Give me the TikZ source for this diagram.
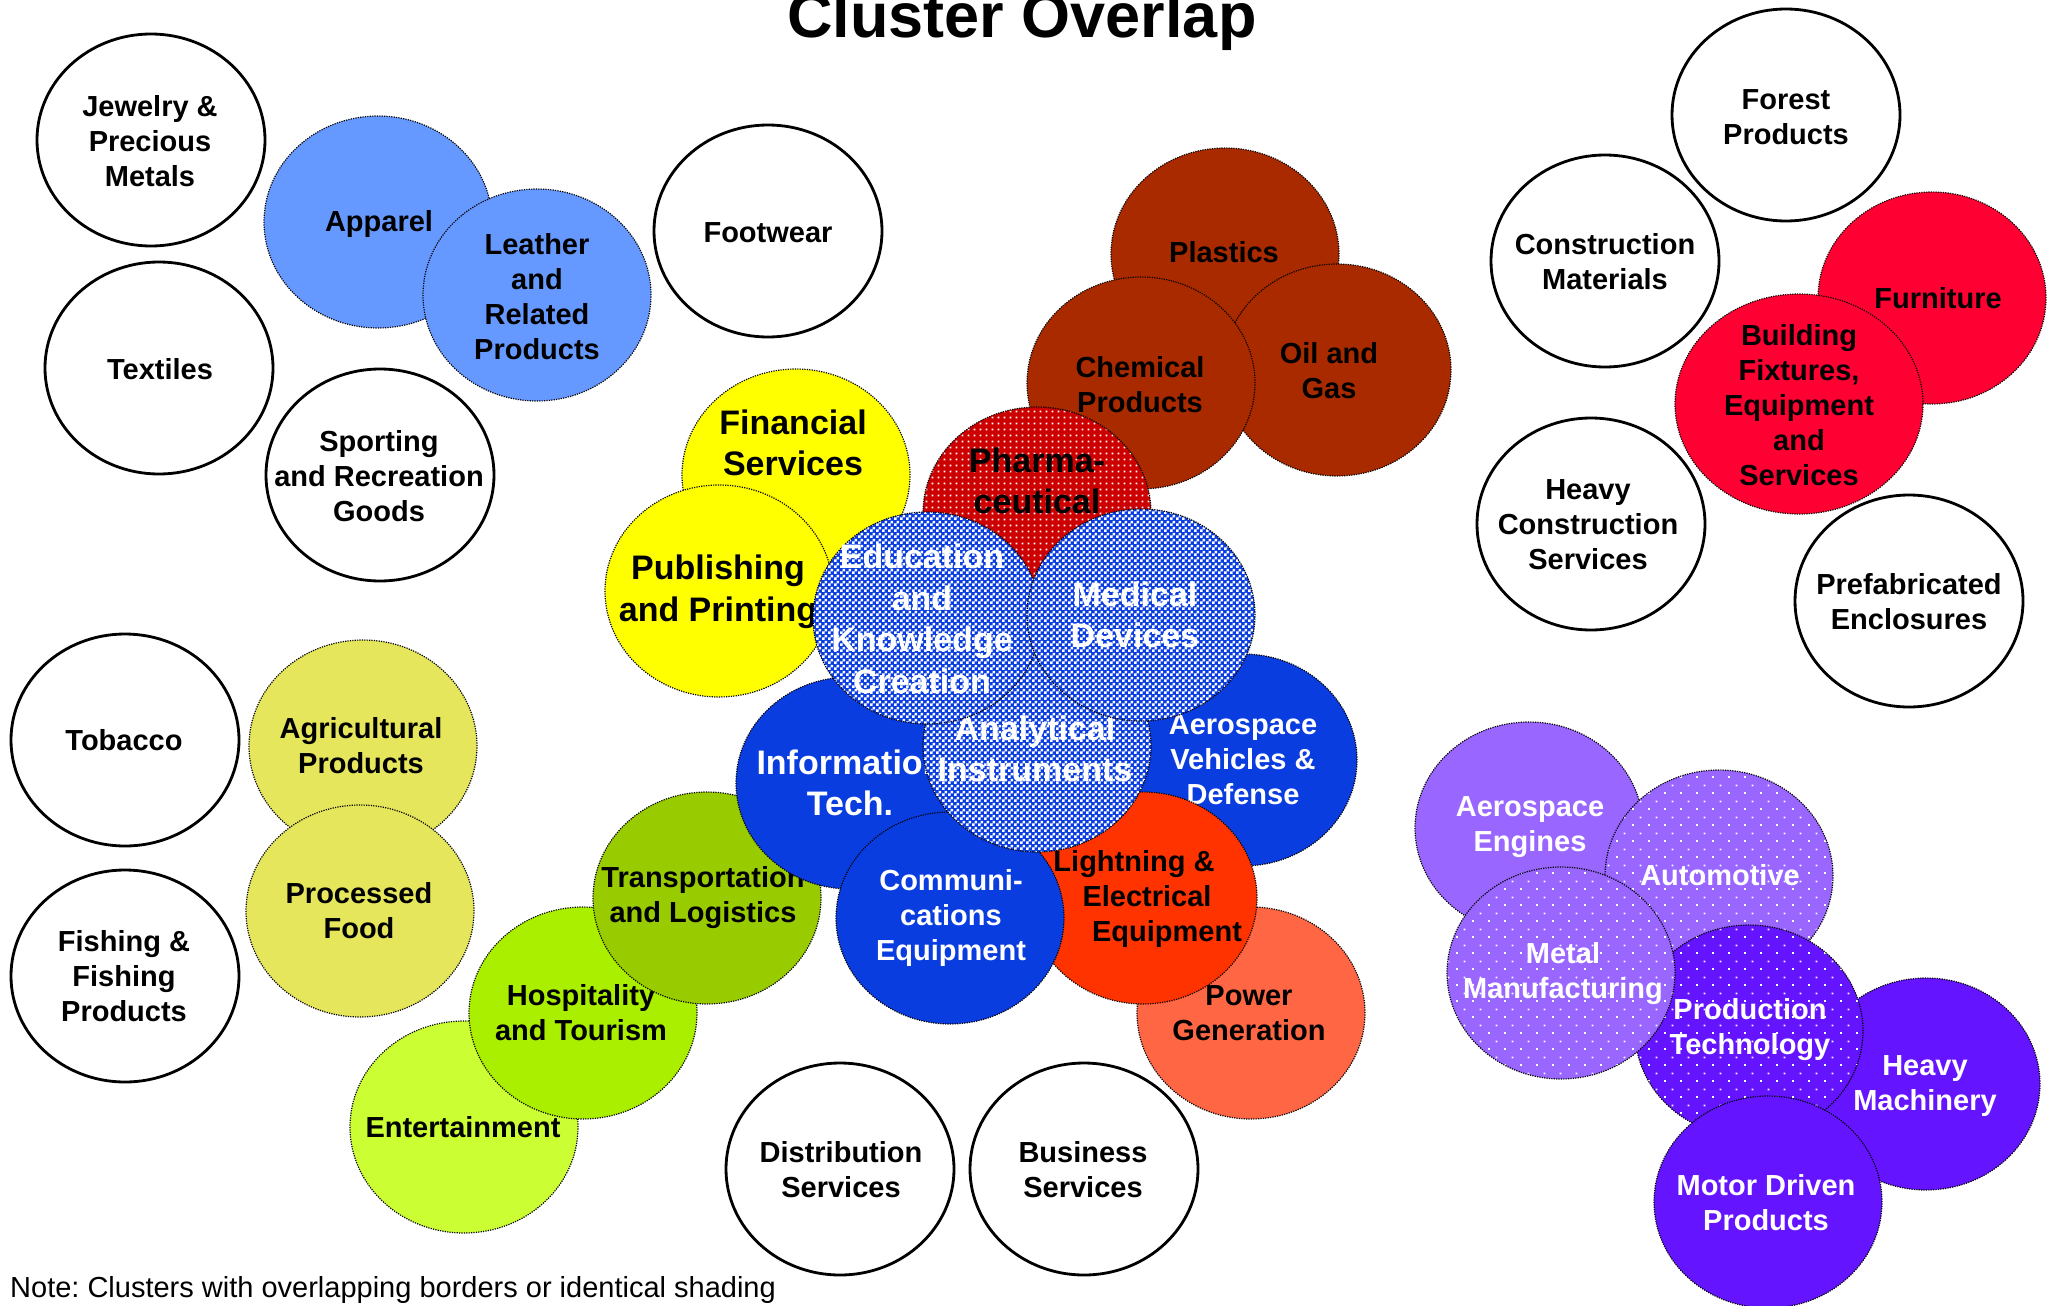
\documentclass[tikz,border=0pt]{standalone}
\usepackage{fontspec}
\setmainfont{Liberation Sans}
\frenchspacing
\usetikzlibrary{patterns}
\pgfdeclarepatternformonly{chkthree}{\pgfqpoint{0pt}{0pt}}{\pgfqpoint{6pt}{6pt}}{\pgfqpoint{6pt}{6pt}}{%
  \pgfpathrectangle{\pgfqpoint{0pt}{0pt}}{\pgfqpoint{3pt}{3pt}}%
  \pgfpathrectangle{\pgfqpoint{3pt}{3pt}}{\pgfqpoint{3pt}{3pt}}%
  \pgfusepath{fill}}
\pgfdeclarepatternformonly{finedots}{\pgfqpoint{0pt}{0pt}}{\pgfqpoint{5.5pt}{5.5pt}}{\pgfqpoint{5.5pt}{5.5pt}}{%
  \pgfpathrectangle{\pgfqpoint{1.75pt}{1.75pt}}{\pgfqpoint{2pt}{2pt}}%
  \pgfusepath{fill}}
\pgfdeclarepatternformonly{sparsedots}{\pgfqpoint{0pt}{0pt}}{\pgfqpoint{16pt}{16pt}}{\pgfqpoint{16pt}{16pt}}{%
  \pgfpathrectangle{\pgfqpoint{0pt}{0pt}}{\pgfqpoint{2pt}{2pt}}%
  \pgfpathrectangle{\pgfqpoint{8pt}{8pt}}{\pgfqpoint{2pt}{2pt}}%
  \pgfusepath{fill}}
\definecolor{cblue}{HTML}{6699FF}
\definecolor{cyellow}{HTML}{FFFF00}
\definecolor{cbrown}{HTML}{AA2A00}
\definecolor{cpharma}{HTML}{CC0000}
\definecolor{cdeep}{HTML}{0A3DE0}
\definecolor{clight}{HTML}{FF3300}
\definecolor{cpower}{HTML}{FF6644}
\definecolor{cagri}{HTML}{E6E65C}
\definecolor{ctrans}{HTML}{99CC00}
\definecolor{chosp}{HTML}{AAEE00}
\definecolor{cent}{HTML}{CCFF33}
\definecolor{cfurn}{HTML}{FF0033}
\definecolor{clpur}{HTML}{9966FF}
\definecolor{cdpur}{HTML}{6514FF}
\tikzset{
  wc/.style={draw=black, line width=2.8pt, fill=white},
  cc/.style={draw=black, line width=1.2pt, dash pattern=on 1.2pt off 1.2pt, fill=#1},
  pc/.style n args={2}{draw=black, line width=1.2pt, dash pattern=on 1.2pt off 1.2pt,
     preaction={fill=#1}, pattern=#2, pattern color=white},
  lbl/.style={align=center, inner sep=0pt, font=\bfseries\fontsize{29}{35}\selectfont},
  lblL/.style={align=center, inner sep=0pt, font=\bfseries\fontsize{34}{41.5}\selectfont},
  wt/.style={text=white}
}
\newcommand\clu[6]{%
  \draw[#1] #3 ellipse [x radius=114pt, y radius=106pt];
  \node[#4] (#2) at #5 {#6};}
\begin{document}
\begin{tikzpicture}[x=1pt, y=-1pt]
\useasboundingbox (0,0) rectangle (2051,1306);
% title and note
\node[font=\bfseries\fontsize{63}{70}\selectfont, anchor=base, inner sep=0pt] (title) at (1022,38) {Cluster Overlap};
\node[font=\fontsize{29}{35}\selectfont, anchor=base west, inner sep=0pt] (note) at (10,1297) {Note: Clusters with overlapping borders or identical shading};
% white clusters
\clu{wc}{jewelry}{(151,140)}{lbl}{(150,141)}{Jewelry \&\\Precious\\Metals}
\clu{wc}{textiles}{(159,368)}{lbl}{(160,369)}{Textiles}
\clu{wc}{sporting}{(380,475)}{lbl}{(379,476)}{Sporting\\and Recreation\\Goods}
\clu{wc}{footwear}{(768,231)}{lbl}{(768,233)}{Footwear}
\clu{wc}{forest}{(1786,115)}{lbl}{(1786,117)}{Forest\\Products}
\clu{wc}{constr}{(1605,261)}{lbl}{(1605,262)}{Construction\\Materials}
\clu{wc}{heavyconstr}{(1591,524)}{lbl}{(1588,525)}{Heavy\\Construction\\Services}
\clu{wc}{prefab}{(1909,601)}{lbl}{(1909,602)}{Prefabricated\\Enclosures}
\clu{wc}{tobacco}{(125,740)}{lbl}{(124,740)}{Tobacco}
\clu{wc}{fishing}{(125,976)}{lbl}{(124,976)}{Fishing \&\\Fishing\\Products}
\clu{wc}{distribution}{(840,1169)}{lbl}{(841,1170)}{Distribution\\Services}
\clu{wc}{business}{(1084,1169)}{lbl}{(1083,1170)}{Business\\Services}
% apparel group
\clu{cc=cblue}{apparel}{(378,222)}{lbl}{(379,224)}{Apparel}
\clu{cc=cblue}{leather}{(537,295)}{lbl}{(537,297)}{Leather\\and\\Related\\Products}
% food
\clu{cc=cagri}{agri}{(363,746)}{lbl}{(361,746)}{Agricultural\\Products}
\clu{cc=cagri}{processed}{(360,911)}{lbl}{(359,911)}{Processed\\Food}
% hospitality chain
\clu{cc=cent}{entertainment}{(464,1127)}{lbl}{(463,1127)}{Entertainment}
\clu{cc=chosp}{hospitality}{(583,1013)}{lbl}{(581,1013)}{Hospitality\\and Tourism}
\clu{cc=ctrans}{transport}{(707,898)}{lbl}{(703,898)}{Transportation\\and Logistics}
% finance and publishing
\draw[cc=cyellow] (796,475) ellipse [x radius=114pt, y radius=106pt];
\node[lblL] (financial) at (793,443) {Financial\\Services};
\clu{cc=cyellow}{publishing}{(719,591)}{lblL}{(718,592)}{Publishing\\and Printing}
% chemicals
\clu{cc=cbrown}{plastics}{(1225,254)}{lbl}{(1224,252)}{Plastics}
\clu{cc=cbrown}{oilgas}{(1337,370)}{lbl}{(1329,371)}{Oil and\\Gas}
\clu{cc=cbrown}{chemical}{(1141,383)}{lbl}{(1140,385)}{Chemical\\Products}
\draw[pc={cpharma}{finedots}] (1037,513) ellipse [x radius=114pt, y radius=106pt];
\node[lblL] (pharma) at (1037,481) {Pharma-\\ceutical};
% central technology cluster
\clu{cc=cpower}{power}{(1251,1013)}{lbl}{(1249,1013)}{Power\\Generation}
\clu{cc=cdeep}{aerovehicles}{(1243,760)}{lbl,wt}{(1243,760)}{Aerospace\\Vehicles \&\\Defense}
\clu{cc=clight}{lightning}{(1143,898)}{lbl}{(1147,899)}{Lightning \&\hspace*{26pt}\\Electrical\\\hspace*{40pt}Equipment}
\clu{cc=cdeep}{infotech}{(850,783)}{lblL,wt}{(850,783)}{Information\\Tech.}
\clu{cc=cdeep}{comm}{(950,918)}{lbl,wt}{(951,918)}{Communi-\\cations\\Equipment}
\clu{pc={cdeep}{chkthree}}{analytical}{(1037,746)}{lblL,wt}{(1035,749)}{Analytical\\Instruments}
\clu{pc={cdeep}{chkthree}}{education}{(927,618)}{lblL,wt}{(922,619)}{Education\\and\\Knowledge\\Creation}
\clu{pc={cdeep}{chkthree}}{medical}{(1141,615)}{lblL,wt}{(1135,615)}{Medical\\Devices}
% building
\clu{cc=cfurn}{furniture}{(1932,298)}{lbl}{(1938,298)}{Furniture}
\draw[cc=cfurn] (1799,404) ellipse [x radius=124pt, y radius=110pt];
\node[lbl] (building) at (1799,405) {Building\\Fixtures,\\Equipment\\and\\Services};
% manufacturing
\clu{cc=clpur}{aeroengines}{(1529,828)}{lbl,wt}{(1530,827)}{Aerospace\\Engines}
\clu{pc={clpur}{sparsedots}}{automotive}{(1719,876)}{lbl,wt}{(1720,875)}{Automotive}
\clu{cc=cdpur}{heavymach}{(1926,1084)}{lbl,wt}{(1925,1086)}{Heavy\\Machinery}
\clu{pc={cdpur}{sparsedots}}{production}{(1749,1031)}{lbl,wt}{(1750,1030)}{Production\\Technology}
\clu{pc={clpur}{sparsedots}}{metal}{(1561,973)}{lbl,wt}{(1563,974)}{Metal\\Manufacturing}
\clu{cc=cdpur}{motor}{(1768,1202)}{lbl,wt}{(1766,1203)}{Motor Driven\\Products}
\end{tikzpicture}
\end{document}
